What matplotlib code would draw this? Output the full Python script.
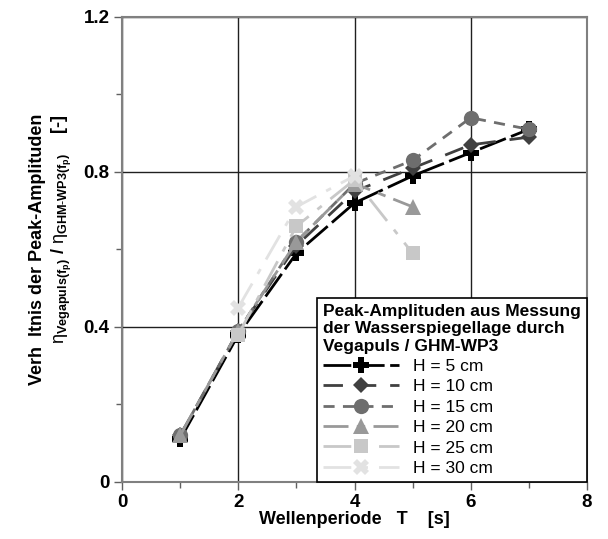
"""Peak amplitude ratio Vegapuls / GHM-WP3 versus wave period."""

import matplotlib

matplotlib.use("Agg")
import matplotlib.pyplot as plt
from matplotlib.ticker import FixedLocator, FuncFormatter

plt.rcParams["font.family"] = ["Liberation Sans", "DejaVu Sans"]
plt.rcParams["mathtext.fontset"] = "custom"
plt.rcParams["mathtext.rm"] = "Liberation Sans"
plt.rcParams["mathtext.bf"] = "Liberation Sans:bold"
plt.rcParams["mathtext.it"] = "Liberation Sans:italic"

PERIODS = [1, 2, 3, 4, 5, 6, 7]
LABELS = ["H = 5 cm", "H = 10 cm", "H = 15 cm", "H = 20 cm", "H = 25 cm", "H = 30 cm"]

H5 = [0.11, 0.38, 0.59, 0.72, 0.79, 0.85, 0.91]
H10 = [0.12, 0.39, 0.61, 0.75, 0.81, 0.87, 0.89]
H15 = [0.12, 0.39, 0.62, 0.77, 0.83, 0.94, 0.91]
H20 = [0.12, 0.39, 0.62, 0.77, 0.71]
H25 = [0.38, 0.66, 0.78, 0.59]
H30 = [0.45, 0.71, 0.79]

SERIES = [
    (PERIODS, H5),
    (PERIODS, H10),
    (PERIODS, H15),
    (PERIODS[:5], H20),
    (PERIODS[1:5], H25),
    (PERIODS[1:4], H30),
]

STYLES = [
    dict(color="#000000", marker="P", ms=11, ls=(0, (10, 2))),
    dict(color="#404040", marker="D", ms=8, ls=(0, (7, 5))),
    dict(color="#6e6e6e", marker="o", ms=11, ls=(0, (4, 3))),
    dict(color="#999999", marker="^", ms=11, ls=(0, (9, 3, 3, 3))),
    dict(color="#c8c8c8", marker="s", ms=10, ls=(0, (10, 4, 2, 4))),
    dict(color="#e2e2e2", marker="X", ms=11, ls=(0, (10, 4, 2, 4))),
]

fig = plt.figure(figsize=(6.08, 5.39), dpi=100)
ax = fig.add_axes([0.2007, 0.1058, 0.7648, 0.8627])

for (xs, ys), style, label in zip(SERIES, STYLES, LABELS):
    ax.plot(xs, ys, color=style["color"], marker=style["marker"],
            markersize=style["ms"], linestyle=style["ls"], linewidth=2,
            markeredgewidth=0, label=label, zorder=3)

ax.set_xlim(0, 8)
ax.set_ylim(0, 1.2)
ax.xaxis.set_major_locator(FixedLocator([0, 2, 4, 6, 8]))
ax.xaxis.set_minor_locator(FixedLocator([1, 3, 5, 7]))
ax.yaxis.set_major_locator(FixedLocator([0, 0.4, 0.8, 1.2]))
ax.yaxis.set_minor_locator(FixedLocator([0.2, 0.6, 1.0]))
ax.yaxis.set_major_formatter(FuncFormatter(lambda v, p: "0" if v == 0 else f"{v:.1f}"))
ax.grid(True, which="major", color="#202020", linewidth=1)
ax.tick_params(which="major", direction="out", length=6, width=1, color="#606060",
               labelsize=13.5, pad=3)
ax.tick_params(which="minor", direction="out", length=4, width=1, color="#606060")
for label in ax.get_xticklabels() + ax.get_yticklabels():
    label.set_fontweight("bold")
for spine in ax.spines.values():
    spine.set_color("#808080")
    spine.set_linewidth(1.5)

ax.set_xlabel("Wellenperiode   T    [s]", fontsize=13, fontweight="bold", labelpad=0)

fig.text(0.062, 0.538, "Verh  ltnis der Peak-Amplituden", rotation=90,
         ha="center", va="center", fontsize=13, fontweight="bold")
fig.text(0.102, 0.575,
         r"$\mathrm{\eta}_{\mathbf{Vegapuls(f_p)}}$ / "
         r"$\mathrm{\eta}_{\mathbf{GHM\text{-}WP3(f_p)}}$    [-]",
         rotation=90, ha="center", va="center", fontsize=13, fontweight="bold")

leg = ax.legend(loc="lower right", bbox_to_anchor=(1, 0), borderaxespad=0,
                title="Peak-Amplituden aus Messung\nder Wasserspiegellage durch\nVegapuls / GHM-WP3",
                fontsize=12.5, title_fontproperties={"weight": "bold", "size": 12.5},
                handlelength=4.4, handletextpad=0.8, labelspacing=0.3,
                fancybox=False, framealpha=1, edgecolor="#000000",
                borderpad=0.35)
leg._legend_box.align = "left"
leg.get_frame().set_linewidth(1.2)

fig.savefig("out.png", dpi=100)
